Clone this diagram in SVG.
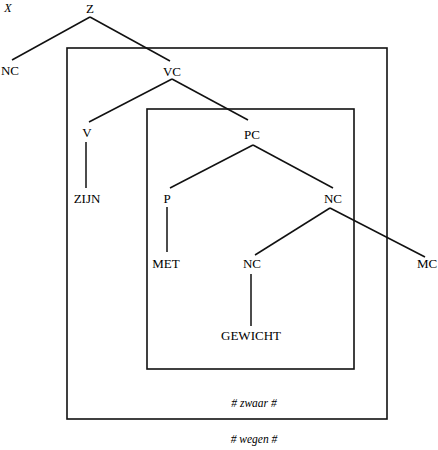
<svg xmlns="http://www.w3.org/2000/svg" width="438" height="450" viewBox="0 0 438 450">
<style>
text{font-family:"Liberation Serif","Times New Roman",serif;font-size:13px;fill:#000;text-anchor:middle}
.it{font-style:italic;font-size:11.5px}
.box{fill:none;stroke:#111;stroke-width:1.6}
.edges line{stroke:#111;stroke-width:1.5}
</style>
<rect width="438" height="450" fill="#fff"/>
<g id="boxes">
<rect id="outer-box" class="box" x="67" y="48" width="320" height="371"/>
<rect id="inner-box" class="box" x="147" y="109" width="207" height="260"/>
</g>
<g class="edges" id="connectors">
<line x1="90" y1="17" x2="12" y2="60"/>
<line x1="90" y1="17" x2="170" y2="61"/>
<line x1="172" y1="79" x2="89" y2="122"/>
<line x1="172" y1="79" x2="248" y2="120"/>
<line x1="86" y1="142" x2="86" y2="188"/>
<line x1="253" y1="145" x2="170" y2="188"/>
<line x1="253" y1="145" x2="333" y2="188"/>
<line x1="167" y1="207" x2="167" y2="252"/>
<line x1="330" y1="208" x2="255" y2="255"/>
<line x1="330" y1="208" x2="425" y2="257"/>
<line x1="251" y1="274" x2="251" y2="326"/>
</g>
<g id="n-X"><text class="it" x="8" y="12" style="font-size:12px">X</text></g>
<g id="n-Z"><text x="90" y="13">Z</text></g>
<g id="n-NC1"><text x="10" y="75">NC</text></g>
<g id="n-VC"><text x="172" y="76">VC</text></g>
<g id="n-V"><text x="87" y="137">V</text></g>
<g id="n-ZIJN"><text x="87" y="203">ZIJN</text></g>
<g id="n-PC"><text x="252" y="139">PC</text></g>
<g id="n-P"><text x="167" y="203">P</text></g>
<g id="n-NC2"><text x="333" y="203">NC</text></g>
<g id="n-MET"><text x="166" y="268">MET</text></g>
<g id="n-NC3"><text x="252" y="268">NC</text></g>
<g id="n-MC"><text x="427" y="268">MC</text></g>
<g id="n-GEWICHT"><text x="251" y="340">GEWICHT</text></g>
<g id="n-zwaar"><text class="it" x="254" y="407"># zwaar #</text></g>
<g id="n-wegen"><text class="it" x="254" y="443"># wegen #</text></g>
</svg>
